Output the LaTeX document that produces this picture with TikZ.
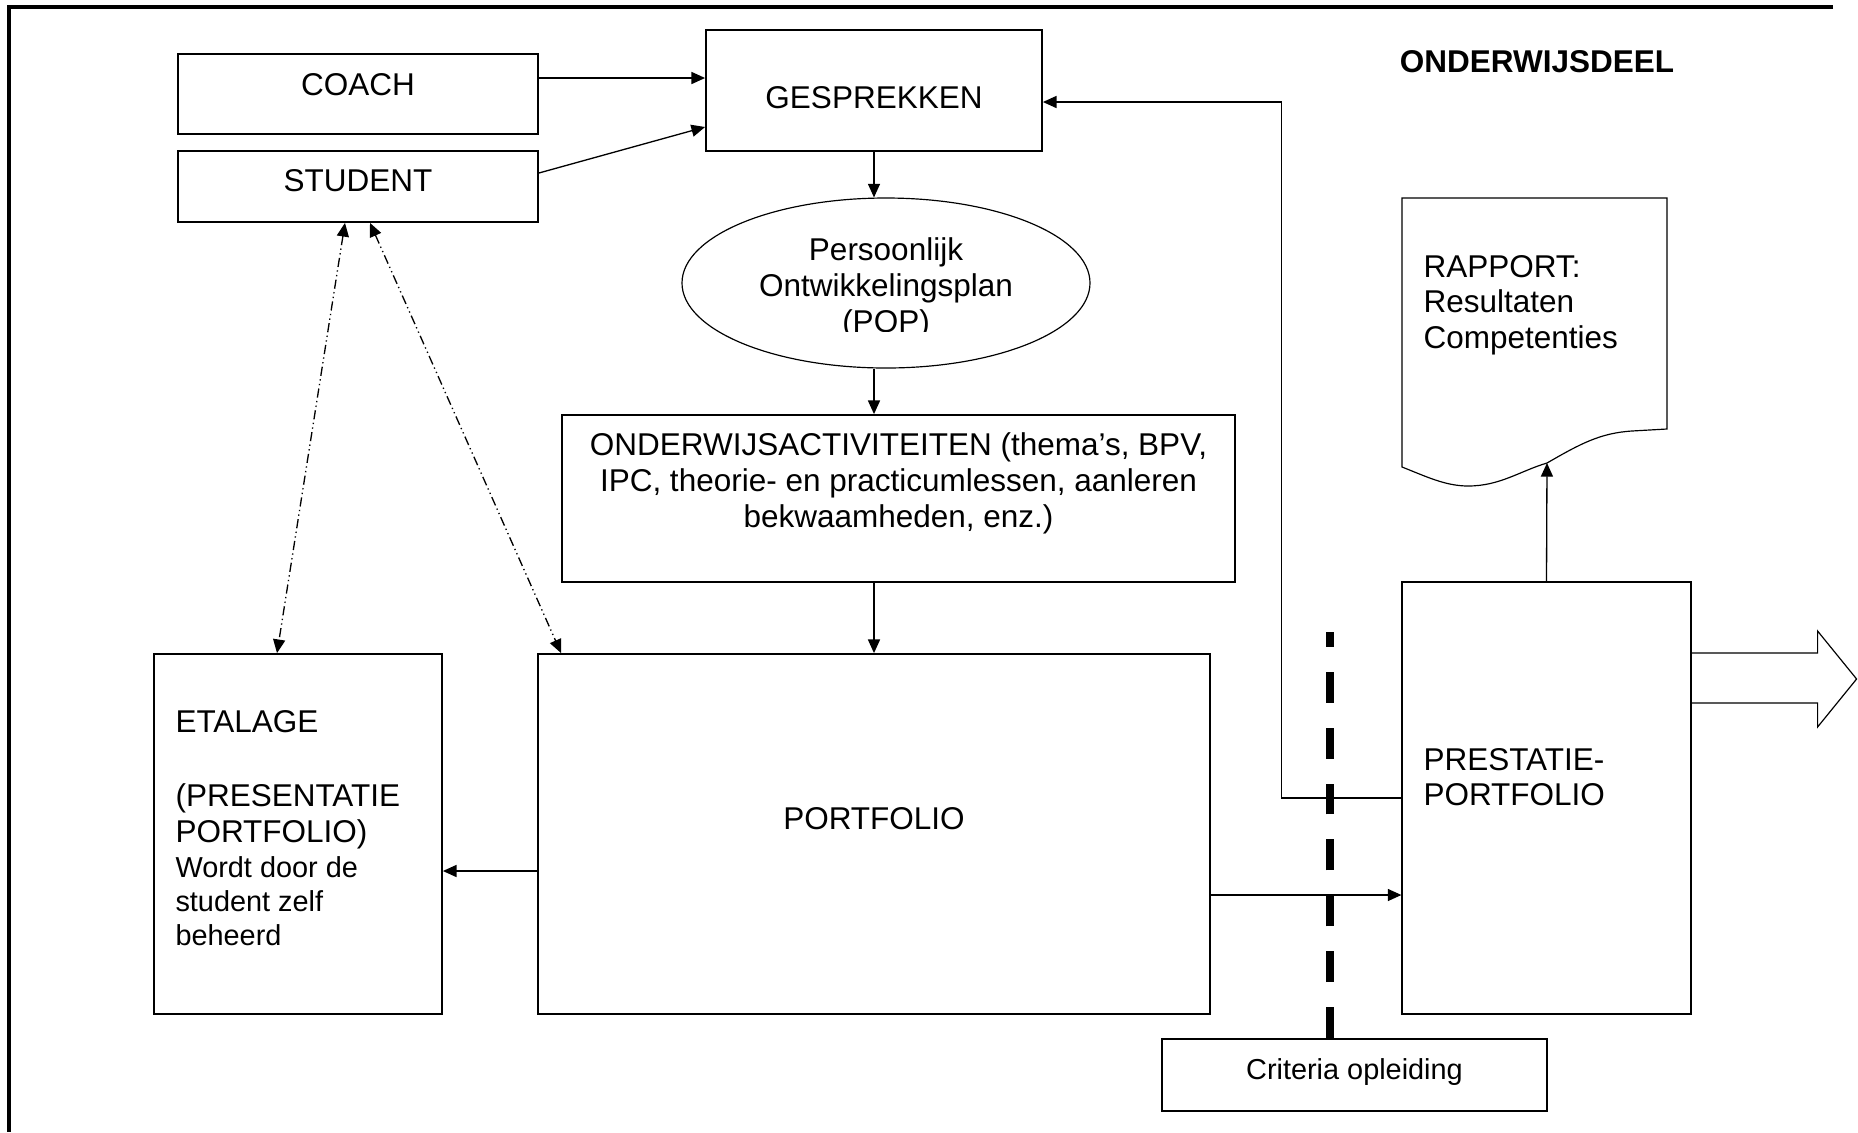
\documentclass[tikz,border=0pt]{standalone}
\usepackage{fontspec}
\setmainfont{Liberation Sans}
\usetikzlibrary{arrows.meta,shapes.geometric}
\def\pxu{0.381pt}
\tikzset{
	box/.style 2 args={draw,line width=.7pt,inner sep=0pt,minimum width=#1*\pxu,minimum height=#2*\pxu},
	thinbox/.style 2 args={box={#1}{#2},line width=.45pt},
	txt/.style={inner sep=0pt,align=left,font=\fontsize{12}{13.7}\selectfont},
	smalltxt/.style={txt,font=\fontsize{11}{13}\selectfont},
	arr/.style={-{Triangle[length=5.2pt,width=4.6pt]},line width=.5pt},
	dda/.style={{Triangle[length=5.2pt,width=4.6pt]}-{Triangle[length=5.2pt,width=4.6pt]},line width=.5pt,
		dash pattern=on 3.5pt off 1.3pt on .5pt off 1.3pt on .5pt off 1.3pt},
	cutline/.style={line width=2.7pt,dash pattern=on 11.8pt off 9.5pt},
	frame/.style={line width=1.15pt}
}
\begin{document}
\begin{tikzpicture}[x=\pxu,y=-\pxu]
				\useasboundingbox (0,0) rectangle (1858,1132);
				\draw[frame] (1833,7) -- (9,7) -- (9,1132);
				
				% boxes
				\node[box={360}{80}] (coach) at (358,94) {};
				\node[box={360}{71}] (student) at (358,186.5) {};
				\node[box={336}{121}] (gesprekken) at (874,90.5) {};
				\node[draw,ellipse,line width=.45pt,inner sep=0pt,minimum width=408*\pxu,minimum height=170*\pxu] (pop) at (886,283) {};
				\node[box={673}{167}] (activiteiten) at (898.5,498.5) {};
				\node[box={672}{360}] (portfolio) at (874,834) {};
				\node[box={288}{360}] (etalage) at (298,834) {};
				\node[thinbox={289}{432}] (prestatie) at (1546.5,798) {};
				\node[box={385}{72}] (criteria) at (1354.5,1075) {};
				
				% rapport (document)
				\coordinate (rapportbot) at (1547,463);
				\draw[line width=.45pt] (1632,431) -- (1667,429) -- (1667,198) -- (1402,198) -- (1402,467)
					.. controls (1425,476) and (1445,486) .. (1468,486)
					.. controls (1500,486) and (1520,471) .. (rapportbot)
					.. controls (1580,444) and (1600,433) .. (1632,431);
				
				% texts
				\node[txt,anchor=base] (coachtxt) at (358,95) {COACH};
				\node[txt,anchor=base] (studenttxt) at (358,191) {STUDENT};
				\node[txt,anchor=base] (gesprekkentxt) at (874,108) {GESPREKKEN};
				\node[txt,anchor=base,font=\fontsize{12}{13.7}\selectfont\bfseries] (titel) at (1537,72) {ONDERWIJSDEEL};
				\begin{scope}
					\clip (680,190) rectangle (1095,331);
					\node[txt,align=center,anchor=north] (poptxt) at (886,237.5) {Persoonlijk\\Ontwikkelingsplan\\(POP)};
				\end{scope}
				\node[txt,align=center,anchor=north] (activiteitentxt) at (898.5,432) {ONDERWIJSACTIVITEITEN (thema’s, BPV,\\IPC, theorie- en practicumlessen, aanleren\\bekwaamheden, enz.)};
				\node[txt,anchor=base] (portfoliotxt) at (874,829) {PORTFOLIO};
				\node[txt,anchor=north west] (etalagetxt) at (175,709.5) {ETALAGE\\[14.5pt](PRESENTATIE\\PORTFOLIO)};
				\node[smalltxt,anchor=north west] (beheerdtxt) at (175,856) {Wordt door de\\student zelf\\beheerd};
				\node[txt,anchor=north west] (rapporttxt) at (1423,254.5) {RAPPORT:\\Resultaten\\Competenties};
				\node[txt,anchor=north west] (prestatietxt) at (1423,747.5) {PRESTATIE-\\PORTFOLIO};
				\node[smalltxt,anchor=base] (criteriatxt) at (1354.5,1079) {Criteria opleiding};
				
				% connectors
				\draw[arr] ([shift={(0,-16)}]coach.east) -- ([shift={(0,-12.5)}]gesprekken.west);
				\draw[arr] ([shift={(0,-13.5)}]student.east) -- ([shift={(0,36.5)}]gesprekken.west);
				\draw[arr] (gesprekken.south) -- (gesprekken.south |- pop.north);
				\draw[arr] (gesprekken.south |- pop.south) -- (gesprekken.south |- activiteiten.north);
				\draw[arr] (portfolio.north |- activiteiten.south) -- (portfolio.north);
				\draw[arr] ([shift={(0,37)}]portfolio.west) -- ([shift={(0,37)}]etalage.east);
				\coordinate (naarprestatie) at ([shift={(0,61)}]portfolio.east);
				\draw[arr] (naarprestatie) -- (naarprestatie -| prestatie.west);
				\draw[arr] (prestatie.west) -- ++(-120,0) |- ([shift={(0,11.5)}]gesprekken.east);
				\draw[arr] (prestatie.north) -- (rapportbot);
				\draw[dda] ([shift={(-13,0)}]student.south) -- ([shift={(-21,0)}]etalage.north);
				\draw[dda] ([shift={(12,0)}]student.south) -- ([shift={(24,0)}]portfolio.north west);
				\draw[cutline] ([shift={(-24.5,0)}]criteria.north) -- ++(0,-406);
				
				% uitgang
				\draw[line width=.45pt] ([shift={(0,-145)}]prestatie.east) -- ++(126,0) -- ++(0,-22) -- ++(39,48)
					-- ++(-39,48) -- ++(0,-24) -- ++(-126,0);
\end{tikzpicture}
\end{document}
